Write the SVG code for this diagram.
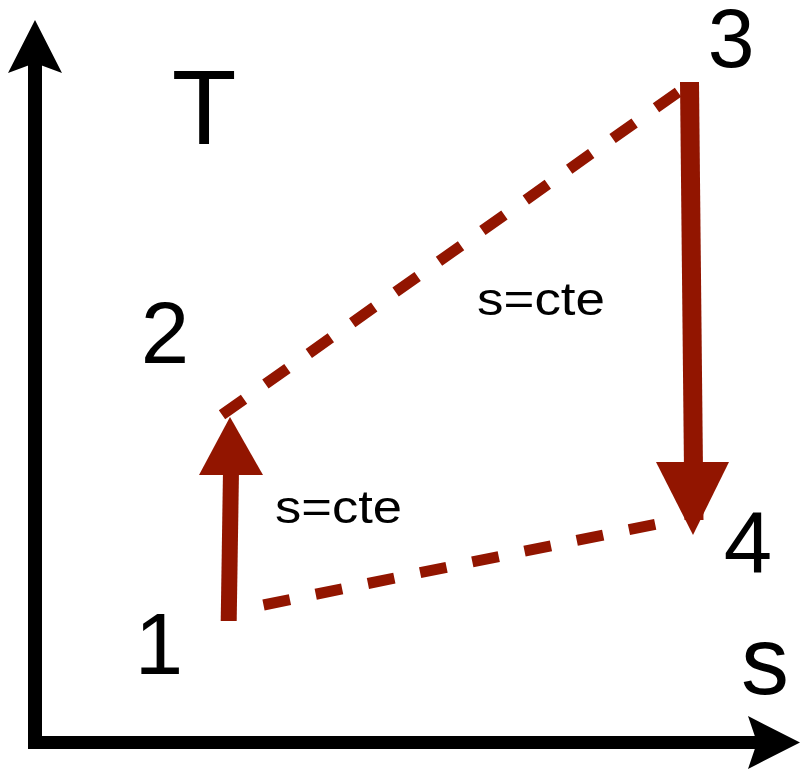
<svg xmlns="http://www.w3.org/2000/svg" width="802" height="769" viewBox="0 0 802 769">
<style>
  .lbl { font-family: "Liberation Sans", Arial, sans-serif; fill: #000; text-anchor: middle; }
  .num { font-size: 87px; }
  .note { font-size: 46px; text-anchor: start; }
  .axis { stroke: #000; fill: none; stroke-linecap: butt; }
  .proc { stroke: #921500; fill: none; stroke-linecap: butt; }
  .dash { stroke: #921500; fill: none; stroke-width: 11; stroke-linecap: butt; }
  .head { fill: #921500; }
</style>
<rect width="802" height="769" fill="#fff"/>
<g id="axes">
  <line class="axis" x1="35" y1="62" x2="35" y2="749" stroke-width="14"/>
  <polygon points="35,20 62,73 35,63 8,73" fill="#000"/>
  <line class="axis" x1="30" y1="742.5" x2="758" y2="742.5" stroke-width="13"/>
  <polygon points="800,742.5 748,716 757,742.5 748,769" fill="#000"/>
</g>
<g id="axis-labels">
  <text id="label-T" class="lbl" x="204" y="144" font-size="106">T</text>
  <text id="label-s" class="lbl" x="765" y="694" font-size="96">s</text>
</g>
<g id="connectors">
  <line class="dash" x1="222" y1="414.8" x2="678" y2="92.2" stroke-dasharray="27 26.16"/>
  <line class="dash" x1="263.5" y1="605" x2="655.2" y2="524.3" stroke-dasharray="27 26.3"/>
  <g id="edge-1-2">
    <line class="proc" x1="228.7" y1="621" x2="231" y2="470" stroke-width="16"/>
    <polygon class="head" points="199,475 263,475 230,417"/>
  </g>
  <g id="edge-3-4">
    <line class="proc" x1="689.5" y1="82" x2="694" y2="520" stroke-width="19"/>
    <polygon class="head" points="656,462 729,462 693,535"/>
  </g>
</g>
<g id="node-1"><text class="lbl num" x="159" y="674">1</text></g>
<g id="node-2"><text class="lbl num" x="165" y="363">2</text></g>
<g id="node-3"><text class="lbl" x="731" y="67" font-size="84">3</text></g>
<g id="node-4"><text class="lbl num" x="748" y="573">4</text></g>
<g id="label-s-cte-1"><text class="lbl note" x="477" y="315" textLength="128" lengthAdjust="spacingAndGlyphs">s=cte</text></g>
<g id="label-s-cte-2"><text class="lbl note" x="275" y="523" textLength="127" lengthAdjust="spacingAndGlyphs">s=cte</text></g>
</svg>
